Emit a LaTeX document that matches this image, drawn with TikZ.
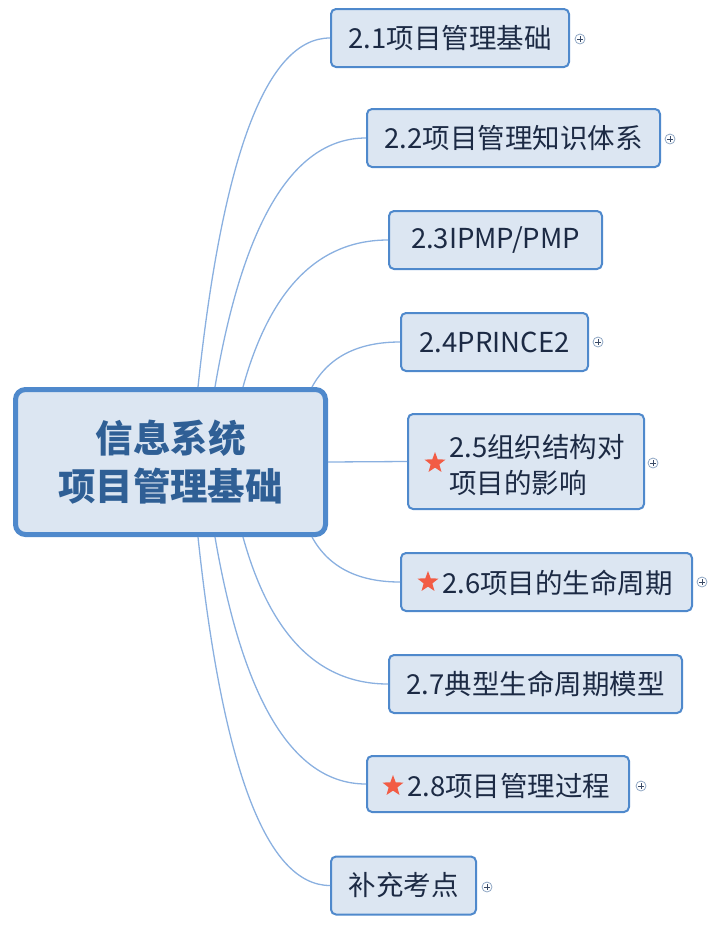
\documentclass[tikz,border=0pt]{standalone}
\usepackage{fontspec}
\usetikzlibrary{shapes.geometric,calc}
\newfontfamily\cjk{Noto Sans CJK SC}
\definecolor{boxfill}{HTML}{DCE6F2}
\definecolor{boxline}{HTML}{4F89CC}
\definecolor{linkc}{HTML}{8AB0E0}
\definecolor{txt}{HTML}{1C2A44}
\definecolor{ctxt}{HTML}{2F5F95}
\definecolor{starc}{HTML}{F25C45}
\definecolor{expc}{HTML}{8FA6C4}
\definecolor{expp}{HTML}{3A4A66}
\newcommand\mmlink[2]{\draw[link] let \p1=(#1), \p2=(#2) in (\p1) .. controls ({\x1+0.1867*(\x2-\x1)}, {\y1+0.6667*(\y2-\y1)}) and ({\x2-0.48*(\x2-\x1)}, \y2) .. (\p2);}
\begin{document}
\begin{tikzpicture}[x=1pt,y=-1pt,
  box/.style={draw=boxline, line width=2pt, fill=boxfill, rounded corners=5pt, inner sep=0pt,
    font=\cjk\fontsize{27.5}{36}\selectfont, text=txt, minimum height=58pt},
  central/.style={draw=boxline, line width=5pt, fill=boxfill, rounded corners=10pt, inner sep=0pt,
    minimum width=310pt, minimum height=145pt, align=center,
    font=\cjk\bfseries\fontsize{37.5}{48}\selectfont, text=ctxt},
  btext/.style={inner sep=0pt, anchor=west, align=left, font=\cjk\fontsize{27.5}{36}\selectfont, text=txt},
  link/.style={draw=linkc, line width=1.3pt},
  expd/.style={circle, draw=expc, line width=0.8pt, fill=white, minimum size=10pt, inner sep=0pt,
    path picture={\draw[expp, line width=0.9pt]
      ([xshift=-2.6pt]path picture bounding box.center) -- ([xshift=2.6pt]path picture bounding box.center)
      ([yshift=-2.6pt]path picture bounding box.center) -- ([yshift=2.6pt]path picture bounding box.center);}},
  redstar/.style={star, star points=5, star point ratio=2.4, fill=starc, minimum size=22pt, inner sep=0pt}]
\useasboundingbox (0,0) rectangle (720,927);

% central node
\node[central] (c) at (170.5,462) {\raisebox{-4pt}{\parbox{300pt}{\centering 信息系统\\项目管理基础}}};

% child boxes
\node[box, minimum width=238pt] (n1) at (450,38) {2.1项目管理基础};
\node[box, minimum width=293pt] (n2) at (513.5,138) {2.2项目管理知识体系};
\node[box, minimum width=213pt] (n3) at (495.5,240) {2.3IPMP/PMP};
\node[box, minimum width=187pt] (n4) at (494.5,342) {2.4PRINCE2};
\node[box, minimum width=236pt, minimum height=95pt] (n5) at (526,461.5) {};
\node[box, minimum width=291pt] (n6) at (546.5,582) {};
\node[box, minimum width=293pt] (n7) at (535.5,684) {2.7典型生命周期模型};
\node[box, minimum width=262pt, minimum height=56pt] (n8) at (498,784) {};
\node[box, minimum width=145pt] (n9) at (403.5,885.5) {补充考点};

% texts and stars in starred boxes
\node[redstar] (s5) at (435,463) {};
\node[btext] (t5) at (449,465) {2.5组织结构对\\项目的影响};
\node[redstar] (s6) at (428,582) {};
\node[btext] (t6) at (442,583) {2.6项目的生命周期};
\node[redstar] (s8) at (393,786) {};
\node[btext] (t8) at (407,786) {2.8项目管理过程};

% expanders
\node[expd] (e1) at (580,39) {};
\node[expd] (e2) at (670,139) {};
\node[expd] (e4) at (598,342) {};
\node[expd] (e5) at (653,463) {};
\node[expd] (e6) at (702,582) {};
\node[expd] (e8) at (641,786) {};
\node[expd] (e9) at (487,887) {};

% connectors
\mmlink{[xshift=185pt]c.north west}{n1.west}
\mmlink{[xshift=202pt]c.north west}{n2.west}
\mmlink{[xshift=230pt]c.north west}{n3.west}
\mmlink{[xshift=299pt]c.north west}{n4.west}
\draw[link] (c.east) -- (n5.west);
\mmlink{[xshift=299pt]c.south west}{n6.west}
\mmlink{[xshift=230pt]c.south west}{n7.west}
\mmlink{[xshift=202pt]c.south west}{n8.west}
\mmlink{[xshift=185pt]c.south west}{n9.west}
\end{tikzpicture}
\end{document}
